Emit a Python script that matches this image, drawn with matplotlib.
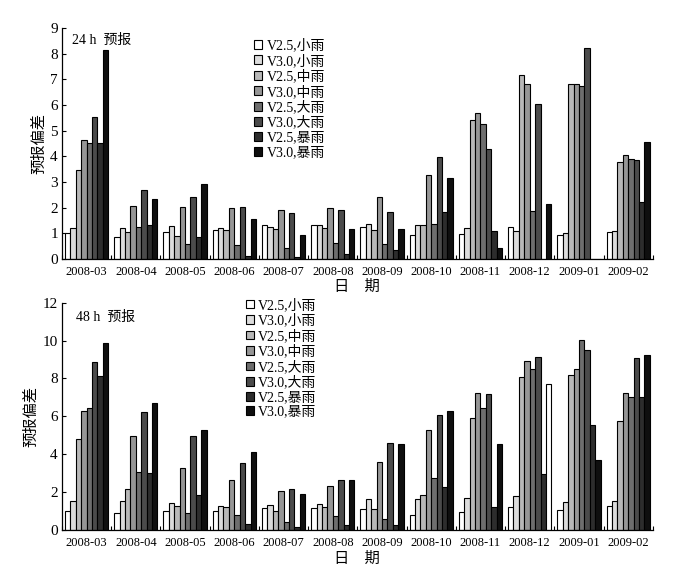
import numpy as np
import matplotlib
matplotlib.use("Agg")
import matplotlib.pyplot as plt

plt.rcParams['font.family'] = ['Liberation Serif', 'Noto Sans CJK SC', 'DejaVu Sans']

months = ["2008-03", "2008-04", "2008-05", "2008-06", "2008-07", "2008-08",
          "2008-09", "2008-10", "2008-11", "2008-12", "2009-01", "2009-02"]
series = ["V2.5,小雨", "V3.0,小雨", "V2.5,中雨", "V3.0,中雨",
          "V2.5,大雨", "V3.0,大雨", "V2.5,暴雨", "V3.0,暴雨"]

# 24 h forecast bias
h24_v25_light = [1.00, 0.84, 1.04, 1.12, 1.31, 1.31, 1.23, 0.92, 0.96, 1.23, 0.92, 1.04]
h24_v30_light = [1.19, 1.19, 1.27, 1.19, 1.23, 1.31, 1.35, 1.31, 1.19, 1.08, 1.00, 1.08]
h24_v25_mod   = [3.45, 1.04, 0.88, 1.12, 1.16, 1.19, 1.12, 1.31, 5.40, 7.19, 6.81, 3.77]
h24_v30_mod   = [4.64, 2.05, 2.01, 1.97, 1.90, 1.97, 2.40, 3.26, 5.68, 6.81, 6.81, 4.04]
h24_v25_heavy = [4.51, 1.23, 0.57, 0.53, 0.42, 0.61, 0.57, 1.35, 5.25, 1.86, 6.73, 3.88]
h24_v30_heavy = [5.53, 2.68, 2.42, 2.01, 1.78, 1.90, 1.82, 3.97, 4.27, 6.06, 8.21, 3.84]
h24_v25_storm = [4.51, 1.32, 0.84, 0.10, 0.08, 0.18, 0.35, 1.82, 1.08, 0.00, 0.00, 2.21]
h24_v30_storm = [8.14, 2.34, 2.92, 1.56, 0.92, 1.17, 1.16, 3.16, 0.42, 2.14, 0.00, 4.55]

# 48 h forecast bias
h48_v25_light = [1.02, 0.88, 0.99, 0.99, 1.14, 1.14, 1.09, 0.77, 0.93, 1.20, 1.04, 1.25]
h48_v30_light = [1.51, 1.51, 1.41, 1.25, 1.30, 1.36, 1.62, 1.62, 1.67, 1.78, 1.46, 1.51]
h48_v25_mod   = [4.79, 2.15, 1.27, 1.20, 1.02, 1.20, 1.09, 1.83, 5.90, 8.06, 8.17, 5.74]
h48_v30_mod   = [6.27, 4.95, 3.26, 2.62, 2.04, 2.31, 3.57, 5.26, 7.22, 8.91, 8.49, 7.22]
h48_v25_heavy = [6.43, 3.05, 0.88, 0.77, 0.40, 0.72, 0.56, 2.73, 6.43, 8.49, 10.02, 7.01]
h48_v30_heavy = [8.86, 6.21, 4.95, 3.52, 2.15, 2.62, 4.60, 6.06, 7.17, 9.12, 9.49, 9.07]
h48_v25_storm = [8.13, 2.99, 1.83, 0.30, 0.14, 0.25, 0.25, 2.25, 1.20, 2.94, 5.53, 7.01]
h48_v30_storm = [9.86, 6.69, 5.28, 4.12, 1.88, 2.62, 4.52, 6.27, 4.52, 7.69, 3.68, 9.23]

data24 = [h24_v25_light, h24_v30_light, h24_v25_mod, h24_v30_mod,
          h24_v25_heavy, h24_v30_heavy, h24_v25_storm, h24_v30_storm]
data48 = [h48_v25_light, h48_v30_light, h48_v25_mod, h48_v30_mod,
          h48_v25_heavy, h48_v30_heavy, h48_v25_storm, h48_v30_storm]

colors = ["#ffffff", "#dcdcdc", "#b8b8b8", "#969696",
          "#6e6e6e", "#4b4b4b", "#2d2d2d", "#0f0f0f"]

fig = plt.figure(figsize=(6.91, 5.76), dpi=100)
ax1 = fig.add_axes([0.0897, 0.5503, 0.855, 0.401])
ax2 = fig.add_axes([0.0897, 0.0799, 0.855, 0.3946])

x = np.arange(len(months)) + 0.5
w = 0.11

def draw(ax, data, ymax, ystep, title, leg_anchor, title_pos):
    bars_all = []
    for j, (vals, c, lab) in enumerate(zip(data, colors, series)):
        b = ax.bar(x + (j - 3.5) * w, vals, width=w, color=c,
                   edgecolor="black", linewidth=0.8, label=lab, zorder=2)
        bars_all.append(b)
    ax.set_xlim(0, len(months))
    ax.set_ylim(0, ymax)
    ax.set_yticks(np.arange(0, ymax + 0.01, ystep))
    ax.set_yticklabels([str(int(v)) for v in np.arange(0, ymax + 0.01, ystep)], fontsize=11)
    ax.set_xticks(np.arange(0, len(months) + 1), minor=False)
    ax.set_xticklabels([])
    ax.set_xticks(x, minor=True)
    ax.set_xticklabels(months, minor=True, fontsize=9)
    ax.tick_params(axis='x', which='minor', length=0, pad=5)
    ax.tick_params(axis='x', which='major', direction='in', length=3, width=0.8)
    ax.tick_params(axis='y', direction='in', length=3, width=0.8, pad=3)
    for s in ['top', 'right']:
        ax.spines[s].set_visible(False)
    for s in ['left', 'bottom']:
        ax.spines[s].set_linewidth(0.9)
    ax.set_ylabel("预报偏差", fontsize=11, labelpad=3)
    ax.text(title_pos[0], title_pos[1], title, transform=ax.transAxes,
            fontsize=10, va='center', ha='left')
    ax.legend(loc='upper left', bbox_to_anchor=leg_anchor, frameon=False,
              fontsize=10, handlelength=0.6, handleheight=0.6,
              handletextpad=0.3, labelspacing=0.12, borderpad=0,
              borderaxespad=0)
    return bars_all

draw(ax1, data24, 9, 1, "24 h  预报", (0.325, 0.955), (0.017, 0.948))
b48 = draw(ax2, data48, 12, 2, "48 h  预报", (0.311, 1.02), (0.024, 0.937))
# in the reference, the 2008-12 V3.0 storm bar of the 48 h panel is drawn white
b48[7][9].set_facecolor("#ffffff")

fig.text(0.517, 1 - 287 / 576, "日　期", fontsize=11, ha='center', va='center')
fig.text(0.517, 1 - 559 / 576, "日　期", fontsize=11, ha='center', va='center')

fig.savefig("out.png", dpi=100)
